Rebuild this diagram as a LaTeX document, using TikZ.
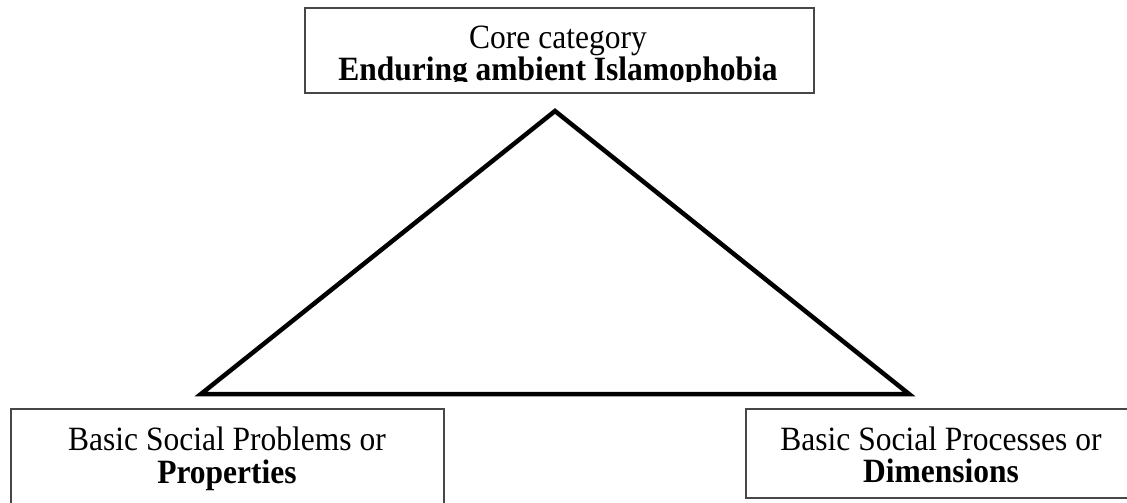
\documentclass[tikz,border=0pt]{standalone}
\usepackage{fontspec}
\setmainfont{Liberation Serif}
\newcommand{\tall}[1]{\scalebox{1}[1.08]{#1}}
\begin{document}
\begin{tikzpicture}[x=1pt,y=-1pt,
  box/.style={draw=black!72, line width=1.8pt, inner sep=0pt, fill=white},
  txt/.style={font=\fontsize{31.5}{34}\selectfont, inner sep=0pt, anchor=base},
  boldtxt/.style={txt, font=\fontsize{31.5}{34}\selectfont\bfseries},
  edge/.style={line width=4.5pt, line join=miter}]
% page frame
\clip (0,0) rectangle (1127,503);
\fill[white] (0,0) rectangle (1127,503);

% core category at the top
\node[box, minimum width=509pt, minimum height=85pt, anchor=north west] (core) at (304,7) {};
\node[txt] (coreTitle) at (558,48.5) {\tall{Core category}};
\begin{scope}
  \clip (304,57) rectangle (813,81.5);
  \node[boldtxt] (coreName) at (558,80.5) {\tall{Enduring ambient Islamophobia}};
\end{scope}

% triangle linking the three levels
\coordinate (apex)  at (555,111);
\coordinate (left)  at (201,394);
\coordinate (right) at (909,394);
\draw[edge] (apex) -- (left) -- (right) -- cycle;

% lower left box
\node[box, minimum width=433pt, minimum height=110pt, anchor=north west] (problems) at (10,408) {};
\node[txt] (problemsA) at (227,450) {\tall{Basic Social Problems or}};
\node[boldtxt] (problemsB) at (227,483) {\tall{Properties}};

% lower right box
\node[box, minimum width=392pt, minimum height=89pt, anchor=north west] (processes) at (745,408) {};
\node[txt] (processesA) at (941,450) {\tall{Basic Social Processes or}};
\node[boldtxt] (processesB) at (941,482) {\tall{Dimensions}};
\end{tikzpicture}
\end{document}
